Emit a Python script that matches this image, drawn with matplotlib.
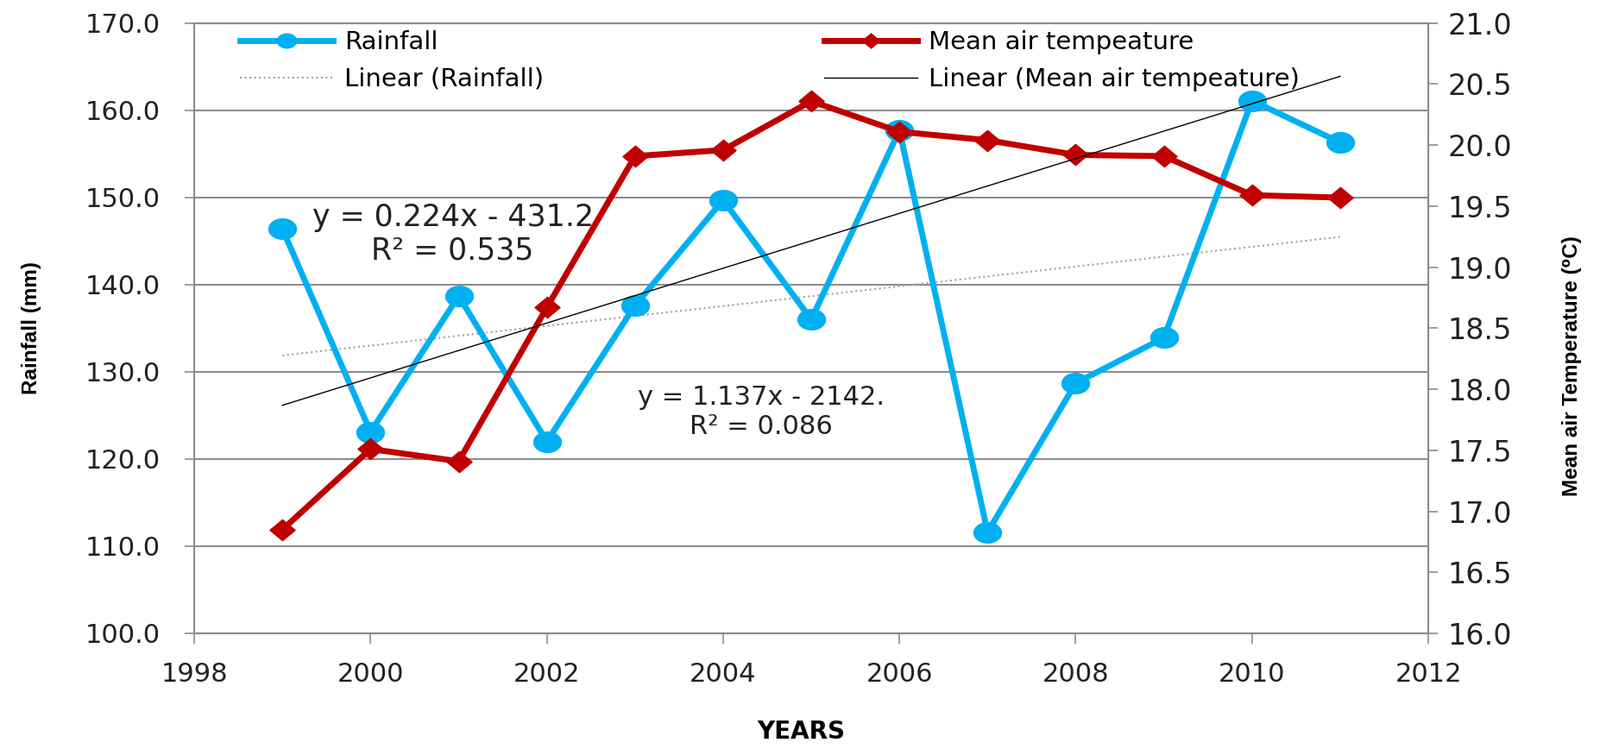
import numpy as np
import matplotlib
matplotlib.use('Agg')
import matplotlib.pyplot as plt
from matplotlib.path import Path
from matplotlib.transforms import Affine2D
from matplotlib.ticker import FormatStrFormatter, MultipleLocator

# data
years = [1999, 2000, 2001, 2002, 2003, 2004, 2005, 2006, 2007, 2008, 2009, 2010, 2011]
rainfall = [146.4, 123.1, 138.7, 122.0, 137.6, 149.7, 136.0, 157.7, 111.6, 128.7, 133.9, 161.1, 156.3]
temperature = [16.85, 17.51, 17.41, 18.67, 19.91, 19.96, 20.36, 20.11, 20.04, 19.92, 19.91, 19.59, 19.57]

rain_eq = 'y = 1.137x - 2142.\nR\u00b2 = 0.086'
temp_eq = 'y = 0.224x - 431.2\nR\u00b2 = 0.535'

BLUE = '#00b0f0'
RED = '#c00000'
GRID = '#8c8c8c'
LABEL_FONT = ['Liberation Sans', 'DejaVu Sans']

plt.rcParams['font.family'] = ['DejaVu Sans']

# the original picture is stretched sideways, so the markers are too
ellipse = Path.unit_circle().transformed(Affine2D().scale(1.35, 1.0))
diamond = Path([(0, 1), (1.2, 0), (0, -1), (-1.2, 0), (0, 1)],
               [Path.MOVETO, Path.LINETO, Path.LINETO, Path.LINETO, Path.CLOSEPOLY])

fig = plt.figure(figsize=(18.54, 8.68), dpi=100)
ax1 = fig.add_axes([0.1214, 0.1544, 0.7713, 0.8148])
ax2 = ax1.twinx()

x = np.array(years)
# trend lines
rain_fit = np.polyfit(x, rainfall, 1)
temp_fit = np.polyfit(x, temperature, 1)

h_rain, = ax1.plot(years, rainfall, color=BLUE, lw=5, marker=ellipse, markersize=23,
                   solid_joinstyle='round', zorder=3)
h_rain_tr, = ax1.plot(x, np.polyval(rain_fit, x), color='#a0a0a0', lw=1.5, ls=':', zorder=2)
h_temp, = ax2.plot(years, temperature, color=RED, lw=5, marker=diamond, markersize=21,
                   solid_joinstyle='round', zorder=3)
h_temp_tr, = ax2.plot(x, np.polyval(temp_fit, x), color='black', lw=1.0, zorder=4)

ax1.set_xlim(1998, 2012)
ax1.set_ylim(100, 170)
ax2.set_ylim(16, 21)
ax1.xaxis.set_major_locator(MultipleLocator(2))
ax1.yaxis.set_major_locator(MultipleLocator(10))
ax2.yaxis.set_major_locator(MultipleLocator(0.5))
ax1.yaxis.set_major_formatter(FormatStrFormatter('%.1f'))
ax2.yaxis.set_major_formatter(FormatStrFormatter('%.1f'))

ax1.grid(axis='y', color=GRID, lw=1.5)
ax1.set_axisbelow(True)
for ax in (ax1, ax2):
    for s in ax.spines.values():
        s.set_color(GRID)
        s.set_linewidth(1.5)
ax1.tick_params(axis='x', direction='out', length=8.5, width=1.2, color=GRID,
                labelsize=22, pad=15, labelcolor='#222222')
ax1.tick_params(axis='y', direction='out', length=8, width=1.2, color=GRID,
                labelsize=22, pad=20, labelcolor='#222222')
ax2.tick_params(axis='y', direction='out', length=8, width=1.2, color=GRID,
                labelsize=24, pad=8, labelcolor='#222222')

ax1.set_ylabel('Rainfall (mm)', family=LABEL_FONT, fontsize=17.5, fontweight='bold')
ax1.yaxis.set_label_coords(-0.124, 0.5)
ax2.set_ylabel('Mean air Temperature (\u2070C)', family=LABEL_FONT, fontsize=17.5,
               fontweight='bold')
ax2.yaxis.set_label_coords(1.108, 0.438)
ax1.set_xlabel('YEARS', fontsize=20, fontweight='bold')
ax1.xaxis.set_label_coords(0.4916, -0.141)

fig.text(0.283, 1 - 271.5 / 868, temp_eq, ha='center', va='center', fontsize=25,
         linespacing=1.15, multialignment='center', color='#222222')
fig.text(0.4757, 1 - 477.5 / 868, rain_eq, ha='center', va='center', fontsize=22,
         linespacing=1.25, multialignment='center', color='#222222')

leg_kw = dict(loc='upper left', bbox_transform=fig.transFigure, frameon=False,
              borderpad=0, borderaxespad=0, handlelength=3.7, handletextpad=0.45,
              labelspacing=0.52, fontsize=21, numpoints=1, markerscale=0.7)
leg1 = ax2.legend([h_rain, h_rain_tr], ['Rainfall', 'Linear (Rainfall)'],
                  bbox_to_anchor=(0.150, 0.960), **leg_kw)
ax2.add_artist(leg1)
ax2.legend([h_temp, h_temp_tr], ['Mean air tempeature', 'Linear (Mean air tempeature)'],
           bbox_to_anchor=(0.515, 0.960), **leg_kw)

fig.savefig('out.png', dpi=100)
